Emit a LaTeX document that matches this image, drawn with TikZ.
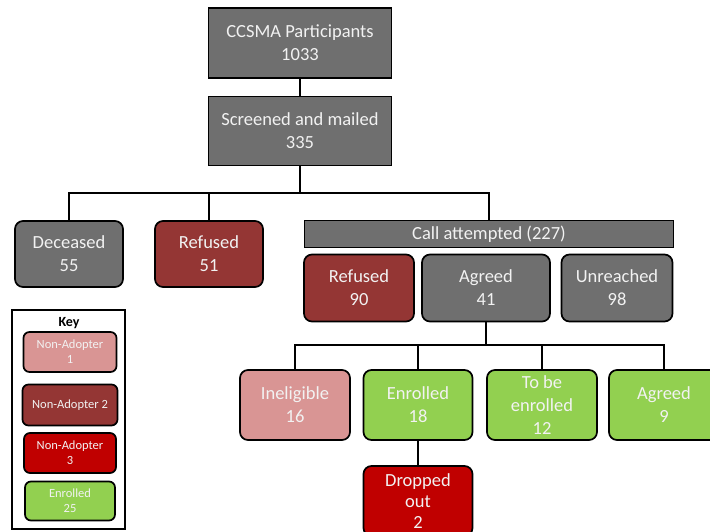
\documentclass[tikz,border=0pt]{standalone}
\usepackage{fontspec}
\setmainfont{Carlito}
\definecolor{boxgrey}{HTML}{6F6F6F}
\definecolor{refusedred}{HTML}{943634}
\definecolor{pinkred}{HTML}{D99594}
\definecolor{darkred}{HTML}{C00000}
\definecolor{enrgreen}{HTML}{92D050}
\definecolor{boxtext}{HTML}{F2F2F2}
\begin{document}
\begin{tikzpicture}[x=1pt,y=-1pt,
	box/.style={draw=black,line width=1.7pt,text=boxtext,align=center,inner sep=0pt,
		font=\fontsize{18.5}{23}\selectfont},
	rbox/.style={box,rounded corners=8pt},
	keybox/.style={rbox,rounded corners=6pt,font=\fontsize{12.5}{15}\selectfont},
	link/.style={line width=2.2pt}]
	\useasboundingbox (0,0) rectangle (710,531);
	\clip (0,0) rectangle (710,531);
	% top of the tree
	\node[box,fill=boxgrey,minimum width=183,minimum height=70] (ccsma) at (300,43) {CCSMA Participants\\1033};
	\node[box,fill=boxgrey,minimum width=183,minimum height=69] (screen) at (300,131) {Screened and mailed\\335};
	\coordinate (hub1) at (300,193);
	\node[rbox,fill=boxgrey,minimum width=108,minimum height=66] (dec) at (69,254) {Deceased\\55};
	\node[rbox,fill=refusedred,minimum width=108,minimum height=66] (ref1) at (209,254) {Refused\\51};
	\node[box,fill=boxgrey,minimum width=369,minimum height=27] (call) at (489,234) {Call attempted (227)};
	% call outcomes
	\node[rbox,fill=refusedred,minimum width=110,minimum height=67] (ref2) at (359,288) {Refused\\90};
	\node[rbox,fill=boxgrey,minimum width=128,minimum height=67] (agr) at (486,288) {Agreed\\41};
	\node[rbox,fill=boxgrey,minimum width=111,minimum height=67] (unr) at (617,288) {Unreached\\98};
	\coordinate (hub2) at (486,345);
	\node[rbox,fill=pinkred,minimum width=110,minimum height=70] (inel) at (295,405) {Ineligible\\16};
	\node[rbox,fill=enrgreen,minimum width=109,minimum height=70] (enr) at (418,405) {Enrolled\\18};
	\node[rbox,fill=enrgreen,minimum width=110,minimum height=70] (tbe) at (542,405) {To be\\enrolled\\12};
	\node[rbox,fill=enrgreen,minimum width=110,minimum height=70] (agr9) at (664,405) {Agreed\\9};
	\node[rbox,fill=darkred,minimum width=109,minimum height=70,font=\fontsize{18.5}{21}\selectfont] (drop) at (418,501) {Dropped\\out\\2};
	% connectors
	\draw[link] (ccsma) -- (screen);
	\draw[link] (screen) -- (hub1);
	\draw[link] (dec.north) |- (hub1) -| (call.north);
	\draw[link] (ref1.north) -- (ref1.north |- hub1);
	\draw[link] (agr) -- (hub2);
	\draw[link] (inel.north) |- (hub2) -| (agr9.north);
	\foreach \n in {enr,tbe}{\draw[link] (\n.north) -- (\n.north |- hub2);}
	\draw[link] (enr) -- (drop);
	% key
	\draw[line width=1.7pt] (12,310) rectangle (125,529);
	\node[font=\bfseries\fontsize{14}{16}\selectfont] (keytitle) at (69,323) {Key};
	\node[keybox,fill=pinkred,minimum width=93,minimum height=40] (k1) at (70,352) {Non-Adopter\\1};
	\node[keybox,fill=refusedred,minimum width=95,minimum height=41] (k2) at (70,405) {Non-Adopter 2};
	\node[keybox,fill=darkred,minimum width=92,minimum height=40] (k3) at (70,453) {Non-Adopter\\3};
	\node[keybox,fill=enrgreen,minimum width=90,minimum height=39] (k4) at (70,501) {Enrolled\\25};
\end{tikzpicture}
\end{document}
